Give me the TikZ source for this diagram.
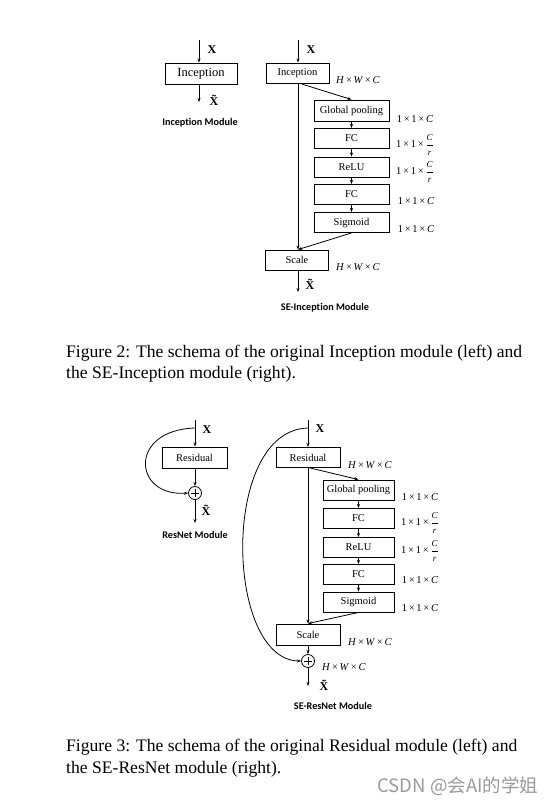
\documentclass[tikz,border=0pt]{standalone}
\usepackage{fontspec}
\setmainfont{Liberation Serif}
\newfontfamily\modfont[Ligatures=NoCommon]{Carlito}
\newfontfamily\cjk{Noto Sans CJK SC}
\usetikzlibrary{arrows.meta}
\tikzset{
  blk/.style={draw, line width=0.9pt, inner sep=0pt, minimum height=20pt, font=\fontsize{10.5}{12}\selectfont},
  arr/.style={-{Stealth[length=4pt,width=3pt]}, line width=0.8pt},
  dimlab/.style={font=\fontsize{10.5}{12}\selectfont, inner sep=0pt},
  xlab/.style={font=\fontsize{12}{13}\selectfont\bfseries, inner sep=0pt},
  modlab/.style={font=\fontsize{10.2}{12}\modfont\bfseries, inner sep=0pt},
  caption/.style={font=\fontsize{17.6}{20}\selectfont, inner sep=0pt, anchor=west},
  plus/.style={draw, circle, line width=0.8pt, minimum size=13pt, inner sep=0pt,
    path picture={\draw[line width=0.6pt] ([xshift=-4pt]path picture bounding box.center) -- ([xshift=4pt]path picture bounding box.center);
                  \draw[line width=0.6pt] ([yshift=-4pt]path picture bounding box.center) -- ([yshift=4pt]path picture bounding box.center);}},
}
\newcommand{\hwc}{\textit{H}\,×\,\textit{W}\,×\,\textit{C}}
\newcommand{\oneC}{1\,×\,1\,×\,\textit{C}}
\newcommand{\smallfrac}{\ensuremath{\displaystyle\frac{\hbox{\fontsize{9}{9}\selectfont\textit{C}}}{\hbox{\fontsize{9}{9}\selectfont\textit{r}}}}}
\newcommand{\oneCr}{1\,×\,1\,×\,\smallfrac}
\begin{document}
\begin{tikzpicture}[x=1pt,y=-1pt]
\useasboundingbox (0,0) rectangle (558,804);

% ---------- Figure 2, left ----------
\coordinate (a1in) at (199,40);
\node[blk, minimum width=72pt, minimum height=21pt, font=\fontsize{12.5}{14}\selectfont] (inc1) at (201,73.5) {Inception};
\coordinate (a1out) at (199,102);
\draw[arr] (a1in) -- (a1in |- inc1.north);
\draw[arr] (a1in |- inc1.south) -- (a1out);
\node[xlab] (x1) at (212,50) {X};
\node[xlab] (xt1) at (214,100) {\~{X}};
\node[modlab] (m1) at (200,123) {Inception Module};

% ---------- Figure 2, right ----------
\coordinate (b1in) at (298,40);
\node[blk, minimum width=63pt] (inc2) at (297.5,73) {Inception};
\node[blk, minimum width=75pt, minimum height=21pt] (gp) at (351.5,110.5) {Global pooling};
\node[blk, minimum width=75pt] (fc1) at (351.5,138.5) {FC};
\node[blk, minimum width=75pt] (relu) at (351.5,167) {ReLU};
\node[blk, minimum width=75pt] (fc2) at (351.5,194.5) {FC};
\node[blk, minimum width=75pt] (sig) at (351.5,222.5) {Sigmoid};
\node[blk, minimum width=63pt] (scl) at (297,260) {Scale};
\coordinate (b1out) at (298,292);
\draw[arr] (b1in) -- (b1in |- inc2.north);
\draw[arr] (b1in |- inc2.south) -- (b1in |- scl.north);
\draw[arr] ([xshift=2pt]b1in |- inc2.south) -- (gp.north);
\draw[arr] (gp) -- (fc1);
\draw[arr] (fc1) -- (relu);
\draw[arr] (relu) -- (fc2);
\draw[arr] (fc2) -- (sig);
\draw[arr] (sig.south) -- (b1in |- scl.north);
\draw[arr] (b1in |- scl.south) -- (b1out);
\node[xlab] (x2) at (311,50) {X};
\node[xlab] (xt2) at (310,284) {\~{X}};
\node[dimlab] (d1) at (358,80) {\hwc};
\node[dimlab] (d2) at (415,119) {\oneC};
\node[dimlab] (d3) at (415,145) {\oneCr};
\node[dimlab] (d4) at (415,172) {\oneCr};
\node[dimlab] (d5) at (416,201) {\oneC};
\node[dimlab] (d6) at (416,229) {\oneC};
\node[dimlab] (d7) at (358,267) {\hwc};
\node[modlab] (m2) at (325,308) {SE-Inception Module};

\node[caption] (cap2a) at (66,353) {Figure 2: The schema of the original Inception module (left) and};
\node[caption] (cap2b) at (66,374) {the SE-Inception module (right).};

% ---------- Figure 3, left ----------
\coordinate (c1in) at (195,420);
\coordinate (c1j) at (195,428);
\node[blk, minimum width=65pt, minimum height=21pt] (res1) at (194.5,457.5) {Residual};
\node[plus] (p1) at (195,493) {};
\coordinate (c1out) at (195,523);
\draw[arr] (c1in) -- (c1in |- res1.north);
\draw[arr] (c1in |- res1.south) -- (p1.north);
\draw[arr] (p1.south) -- (c1out);
\draw[arr] (c1j) .. controls (128,430) and (133,497) .. (p1.west);
\node[xlab] (x3) at (207,430) {X};
\node[xlab] (xt3) at (206,510) {\~{X}};
\node[modlab] (m3) at (195,535) {ResNet Module};

% ---------- Figure 3, right ----------
\coordinate (d1in) at (308,420);
\coordinate (d1j) at (308,428);
\node[blk, minimum width=64pt] (res2) at (308,457.5) {Residual};
\node[blk, minimum width=71pt] (gp2) at (358.5,490) {Global pooling};
\node[blk, minimum width=71pt] (fc3) at (358.5,518.5) {FC};
\node[blk, minimum width=71pt] (relu2) at (358.5,547.5) {ReLU};
\node[blk, minimum width=71pt] (fc4) at (358.5,574.5) {FC};
\node[blk, minimum width=71pt] (sig2) at (358.5,602) {Sigmoid};
\node[blk, minimum width=64pt, minimum height=21pt] (scl2) at (308,634.5) {Scale};
\node[plus] (p2) at (308,661) {};
\coordinate (d1out) at (308,686);
\draw[arr] (d1in) -- (d1in |- res2.north);
\draw[arr] (d1in |- res2.south) -- (d1in |- scl2.north);
\draw[arr] ([xshift=2pt]d1in |- res2.south) -- (gp2.north);
\draw[arr] (gp2) -- (fc3);
\draw[arr] (fc3) -- (relu2);
\draw[arr] (relu2) -- (fc4);
\draw[arr] (fc4) -- (sig2);
\draw[arr] (sig2.south) -- (d1in |- scl2.north);
\draw[arr] (scl2.south) -- (p2.north);
\draw[arr] (p2.south) -- (d1out);
\draw[arr] (d1j) .. controls (220,430) and (225,660) .. (p2.west);
\node[xlab] (x4) at (320,429) {X};
\node[xlab] (xt4) at (324,685) {\~{X}};
\node[dimlab] (e1) at (370,465) {\hwc};
\node[dimlab] (e2) at (420,497) {\oneC};
\node[dimlab] (e3) at (420,523) {\oneCr};
\node[dimlab] (e4) at (420,551) {\oneCr};
\node[dimlab] (e5) at (420,580) {\oneC};
\node[dimlab] (e6) at (420,608) {\oneC};
\node[dimlab] (e7) at (370,642) {\hwc};
\node[dimlab] (e8) at (344,667) {\hwc};
\node[modlab] (m4) at (333,706) {SE-ResNet Module};

\node[caption] (cap3a) at (66,747) {Figure 3: The schema of the original Residual module (left) and};
\node[caption] (cap3b) at (66,769) {the SE-ResNet module (right).};

\node[font=\fontsize{18.5}{20}\cjk, text=black!40, inner sep=0pt] (wm) at (458,786) {CSDN @会AI的学姐};
\end{tikzpicture}
\end{document}
